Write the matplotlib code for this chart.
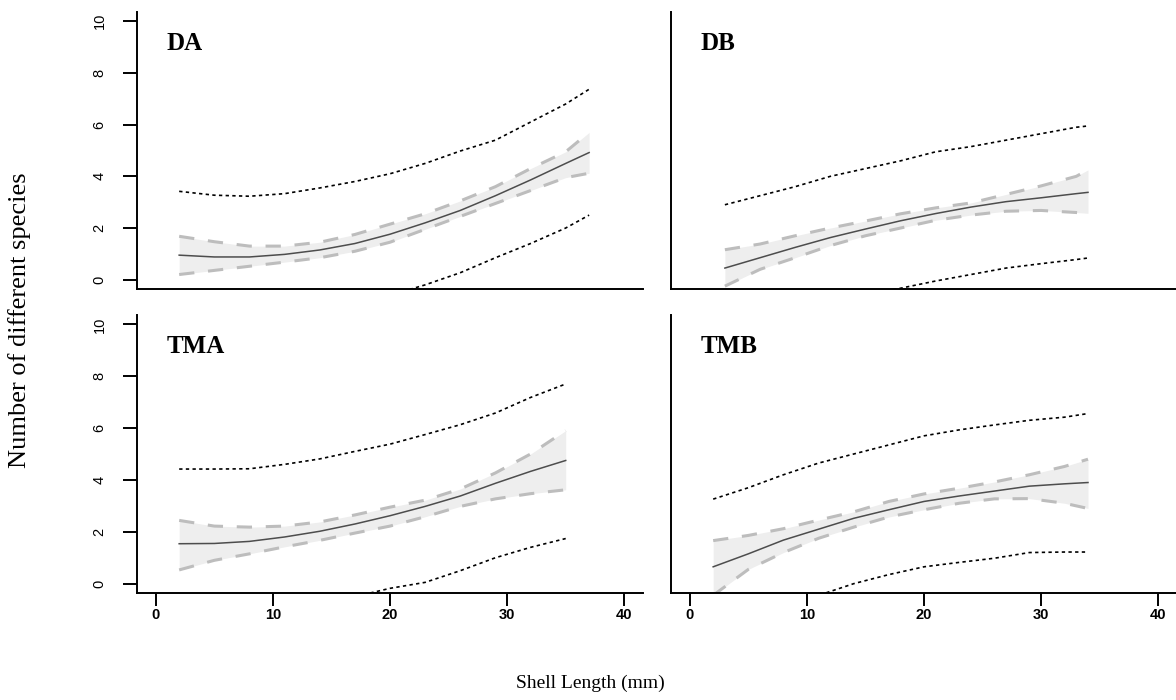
import matplotlib
matplotlib.use('Agg')
import matplotlib.pyplot as plt
import numpy as np

# ---- data ----
# DA
da_x = [2, 5, 8, 11, 14, 17, 20, 23, 26, 29, 32, 35, 37]
da_fit = [0.95, 0.88, 0.88, 0.98, 1.15, 1.4, 1.76, 2.2, 2.68, 3.25, 3.86, 4.5, 4.92]
da_ci_hi = [1.68, 1.47, 1.3, 1.3, 1.45, 1.75, 2.15, 2.55, 3.05, 3.6, 4.3, 4.95, 5.7]
da_ci_lo = [0.2, 0.36, 0.52, 0.68, 0.85, 1.1, 1.45, 1.95, 2.45, 2.95, 3.45, 3.95, 4.12]
da_pi_hi = [3.42, 3.27, 3.23, 3.33, 3.55, 3.8, 4.1, 4.5, 4.98, 5.4, 6.1, 6.8, 7.37]
da_pi_lo = [-1.5, -1.5, -1.45, -1.35, -1.2, -1.0, -0.6, -0.2, 0.27, 0.85, 1.4, 2.0, 2.5]

# DB
db_x = [3, 6, 9, 12, 15, 18, 21, 24, 27, 30, 33, 34]
db_fit = [0.45, 0.85, 1.25, 1.63, 1.96, 2.28, 2.56, 2.81, 3.02, 3.17, 3.33, 3.38]
db_ci_hi = [1.16, 1.38, 1.7, 2.0, 2.27, 2.55, 2.78, 2.97, 3.3, 3.63, 4.0, 4.25]
db_ci_lo = [-0.25, 0.4, 0.85, 1.32, 1.7, 2.0, 2.3, 2.5, 2.65, 2.68, 2.6, 2.57]
db_pi_hi = [2.9, 3.25, 3.6, 4.0, 4.3, 4.6, 4.95, 5.15, 5.4, 5.65, 5.9, 5.95]
db_pi_lo = [-2.0, -1.6, -1.2, -0.85, -0.55, -0.33, -0.05, 0.2, 0.45, 0.62, 0.78, 0.84]

# TMA
tma_x = [2, 5, 8, 11, 14, 17, 20, 23, 26, 29, 32, 35]
tma_fit = [1.54, 1.55, 1.63, 1.8, 2.02, 2.3, 2.62, 2.98, 3.38, 3.87, 4.33, 4.75]
tma_ci_hi = [2.44, 2.22, 2.18, 2.22, 2.38, 2.65, 2.95, 3.22, 3.65, 4.27, 5.0, 5.9]
tma_ci_lo = [0.53, 0.9, 1.15, 1.42, 1.67, 1.95, 2.22, 2.58, 2.98, 3.27, 3.47, 3.62]
tma_pi_hi = [4.42, 4.42, 4.43, 4.6, 4.81, 5.1, 5.38, 5.75, 6.13, 6.58, 7.18, 7.7]
tma_pi_lo = [-1.35, -1.32, -1.2, -1.0, -0.8, -0.5, -0.18, 0.05, 0.5, 1.0, 1.4, 1.74]

# TMB
tmb_x = [2, 5, 8, 11, 14, 17, 20, 23, 26, 29, 32, 34]
tmb_fit = [0.65, 1.15, 1.68, 2.1, 2.52, 2.85, 3.17, 3.38, 3.57, 3.76, 3.85, 3.9]
tmb_ci_hi = [1.66, 1.86, 2.12, 2.45, 2.77, 3.17, 3.46, 3.68, 3.92, 4.2, 4.52, 4.8]
tmb_ci_lo = [-0.45, 0.55, 1.2, 1.75, 2.18, 2.57, 2.85, 3.1, 3.27, 3.28, 3.1, 2.9]
tmb_pi_hi = [3.26, 3.7, 4.2, 4.65, 5.0, 5.35, 5.7, 5.93, 6.12, 6.3, 6.42, 6.56]
tmb_pi_lo = [-1.9, -1.4, -0.9, -0.45, 0.0, 0.35, 0.65, 0.82, 0.98, 1.2, 1.22, 1.22]

panels = ['DA', 'DB', 'TMA', 'TMB']
x_ticks = [0, 10, 20, 30, 40]
y_ticks = [0, 2, 4, 6, 8, 10]

series = {
    'DA': (da_x, da_fit, da_ci_lo, da_ci_hi, da_pi_lo, da_pi_hi),
    'DB': (db_x, db_fit, db_ci_lo, db_ci_hi, db_pi_lo, db_pi_hi),
    'TMA': (tma_x, tma_fit, tma_ci_lo, tma_ci_hi, tma_pi_lo, tma_pi_hi),
    'TMB': (tmb_x, tmb_fit, tmb_ci_lo, tmb_ci_hi, tmb_pi_lo, tmb_pi_hi),
}

fig = plt.figure(figsize=(11.76, 7.0), dpi=100)
W, H = 1176.0, 700.0
# axes boxes in pixels: left, top, right, bottom
boxes = {
    'DA': (137, 12, 643, 289),
    'DB': (671, 12, 1177, 289),
    'TMA': (137, 315, 643, 593),
    'TMB': (671, 315, 1177, 593),
}

for name in panels:
    l, t, r, b = boxes[name]
    ax = fig.add_axes([l / W, 1 - b / H, (r - l) / W, (b - t) / H])
    x, fit, lo, hi, plo, phi = series[name]
    ax.fill_between(x, lo, hi, color='#eeeeee', lw=0, zorder=1)
    ax.plot(x, hi, color='#bdbdbd', lw=2.2, dashes=(5, 4.5), zorder=2)
    ax.plot(x, lo, color='#bdbdbd', lw=2.2, dashes=(5, 4.5), zorder=2)
    ax.plot(x, fit, color='#4d4d4d', lw=1.1, zorder=3)
    ax.plot(x, phi, color='black', lw=1.2, dashes=(2, 2), zorder=3)
    ax.plot(x, plo, color='black', lw=1.2, dashes=(2, 2), zorder=3)

    ax.set_xlim(-1.6, 41.6)
    ax.set_ylim(-0.36, 10.36)
    for s in ['top', 'right']:
        ax.spines[s].set_visible(False)
    for s in ['left', 'bottom']:
        ax.spines[s].set_linewidth(1.4)

    ax.text(0.058, 0.885, name, transform=ax.transAxes, fontsize=18,
            fontweight='bold', family='Liberation Serif', va='center', ha='left')

    if name in ('DA', 'TMA'):
        ax.set_yticks(y_ticks)
        ax.set_yticklabels([str(v) for v in y_ticks], rotation=90, va='center',
                           family='Liberation Sans', fontsize=10.5)
        ax.tick_params(axis='y', length=10, width=1.4, pad=12)
    else:
        ax.set_yticks([])
    if name in ('TMA', 'TMB'):
        ax.set_xticks(x_ticks)
        ax.set_xticklabels([str(v) for v in x_ticks], family='Liberation Sans',
                           fontweight='bold', fontsize=10.5)
        ax.tick_params(axis='x', length=9, width=1.4, pad=2)
    else:
        ax.set_xticks([])

fig.text(590 / W, 1 - 683 / H, 'Shell Length (mm)', ha='center', va='center',
         family='Liberation Serif', fontsize=14)
fig.text(20 / W, 1 - 320 / H, 'Number of different species', ha='center',
         va='center', rotation=90, family='Liberation Serif', fontsize=19)

fig.savefig('out.png', dpi=100)
